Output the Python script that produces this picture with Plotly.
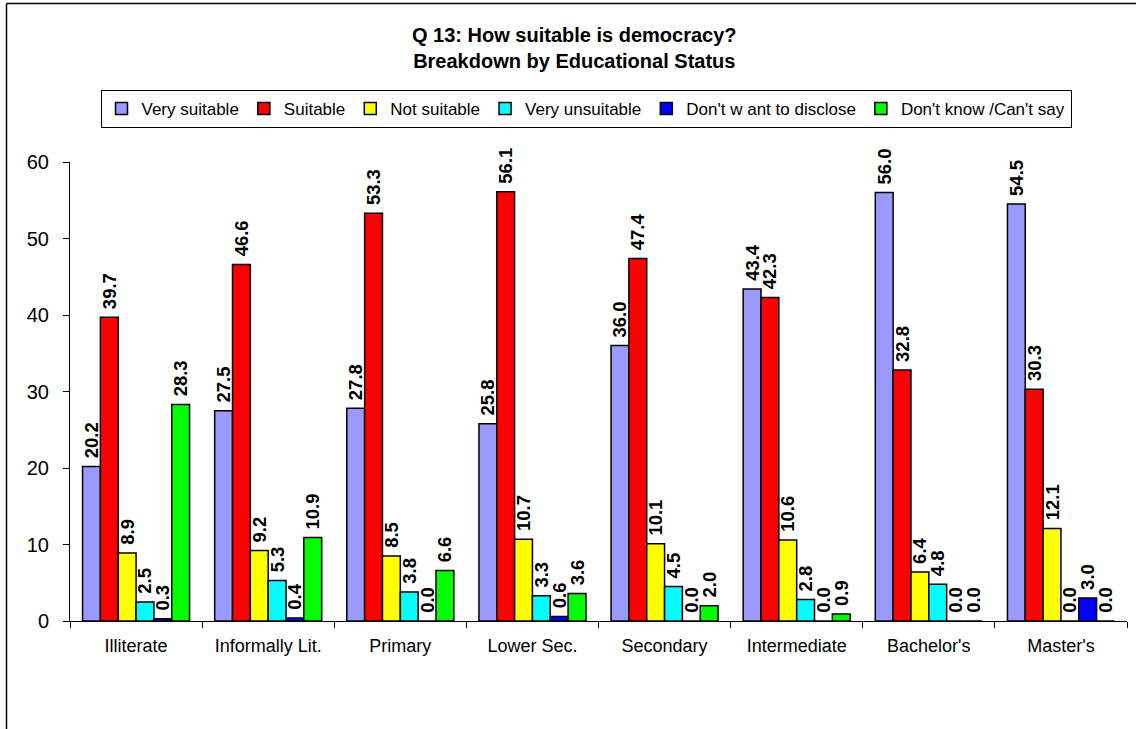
import plotly.graph_objects as go

categories = ["Illiterate", "Informally Lit.", "Primary", "Lower Sec.", "Secondary",
              "Intermediate", "Bachelor's", "Master's"]
very_suitable = [20.2, 27.5, 27.8, 25.8, 36.0, 43.4, 56.0, 54.5]
suitable = [39.7, 46.6, 53.3, 56.1, 47.4, 42.3, 32.8, 30.3]
not_suitable = [8.9, 9.2, 8.5, 10.7, 10.1, 10.6, 6.4, 12.1]
very_unsuitable = [2.5, 5.3, 3.8, 3.3, 4.5, 2.8, 4.8, 0.0]
dont_disclose = [0.3, 0.4, 0.0, 0.6, 0.0, 0.0, 0.0, 3.0]
dont_know = [28.3, 10.9, 6.6, 3.6, 2.0, 0.9, 0.0, 0.0]

series = [
    ("Very suitable", very_suitable, "#9999FF"),
    ("Suitable", suitable, "#FF0000"),
    ("Not suitable", not_suitable, "#FFFF00"),
    ("Very unsuitable", very_unsuitable, "#00FFFF"),
    ("Don't w ant to disclose", dont_disclose, "#0000FF"),
    ("Don't know /Can't say", dont_know, "#00FF00"),
]

FONT = "Liberation Sans, Arial, sans-serif"

fig = go.Figure()
for name, vals, color in series:
    fig.add_trace(go.Bar(
        name=name, x=categories, y=vals,
        marker=dict(color=color, line=dict(color="black", width=1.5)),
        text=[f"\u00a0{v:.1f}" for v in vals], texttemplate="%{text}",
        textposition="outside", textangle=-90,
        textfont=dict(family=FONT, size=18.5, color="black", weight="bold"),
        constraintext="none", cliponaxis=False,
    ))

L, R, T, B = 70, 9, 162, 108
W, H = 1136, 729
pw, ph = W - L - R, H - T - B

def px2x(px):
    return (px - L) / pw

def py2y(py):
    return (H - B - py) / ph

fig.update_layout(
    width=W, height=H,
    margin=dict(l=L, r=R, t=T, b=B, autoexpand=False),
    paper_bgcolor="white", plot_bgcolor="white",
    barmode="group", bargap=0.19, bargroupgap=0,
    font=dict(family=FONT, color="black"),
    showlegend=True,
    legend=dict(
        orientation="h", x=px2x(586), xanchor="center", y=py2y(90), yanchor="top",
        bordercolor="black", borderwidth=1, bgcolor="white",
        font=dict(family=FONT, size=17, color="black"),
        itemwidth=30, tracegroupgap=0,
    ),
    xaxis=dict(
        showline=True, linecolor="black", linewidth=1,
        ticks="outside", ticklen=6, tickcolor="black", tickson="boundaries",
        tickfont=dict(family=FONT, size=18, color="black"),
        showgrid=False, ticklabelstandoff=8,
    ),
    yaxis=dict(
        range=[0, 60], dtick=10, tick0=0,
        showline=True, linecolor="black", linewidth=1,
        ticks="outside", ticklen=6, tickcolor="black",
        tickfont=dict(family=FONT, size=20, color="black"),
        showgrid=False, zeroline=False, ticklabelstandoff=10,
    ),
    annotations=[dict(
        text="<b>Q 13: How suitable is democracy?</b><br><b>Breakdown by Educational Status</b>",
        x=px2x(574), y=py2y(48), xref="paper", yref="paper",
        xanchor="center", yanchor="middle", showarrow=False,
        font=dict(family=FONT, size=20, color="black"),
    )],
    shapes=[
        dict(type="line", xref="paper", yref="paper",
             x0=px2x(6.5), x1=px2x(1300), y0=py2y(3.5), y1=py2y(3.5),
             line=dict(color="black", width=1.5)),
        dict(type="line", xref="paper", yref="paper",
             x0=px2x(6.5), x1=px2x(6.5), y0=py2y(3.5), y1=py2y(900),
             line=dict(color="black", width=1.5)),
    ],
)

fig.write_html("out.html", config={"displayModeBar": False})
